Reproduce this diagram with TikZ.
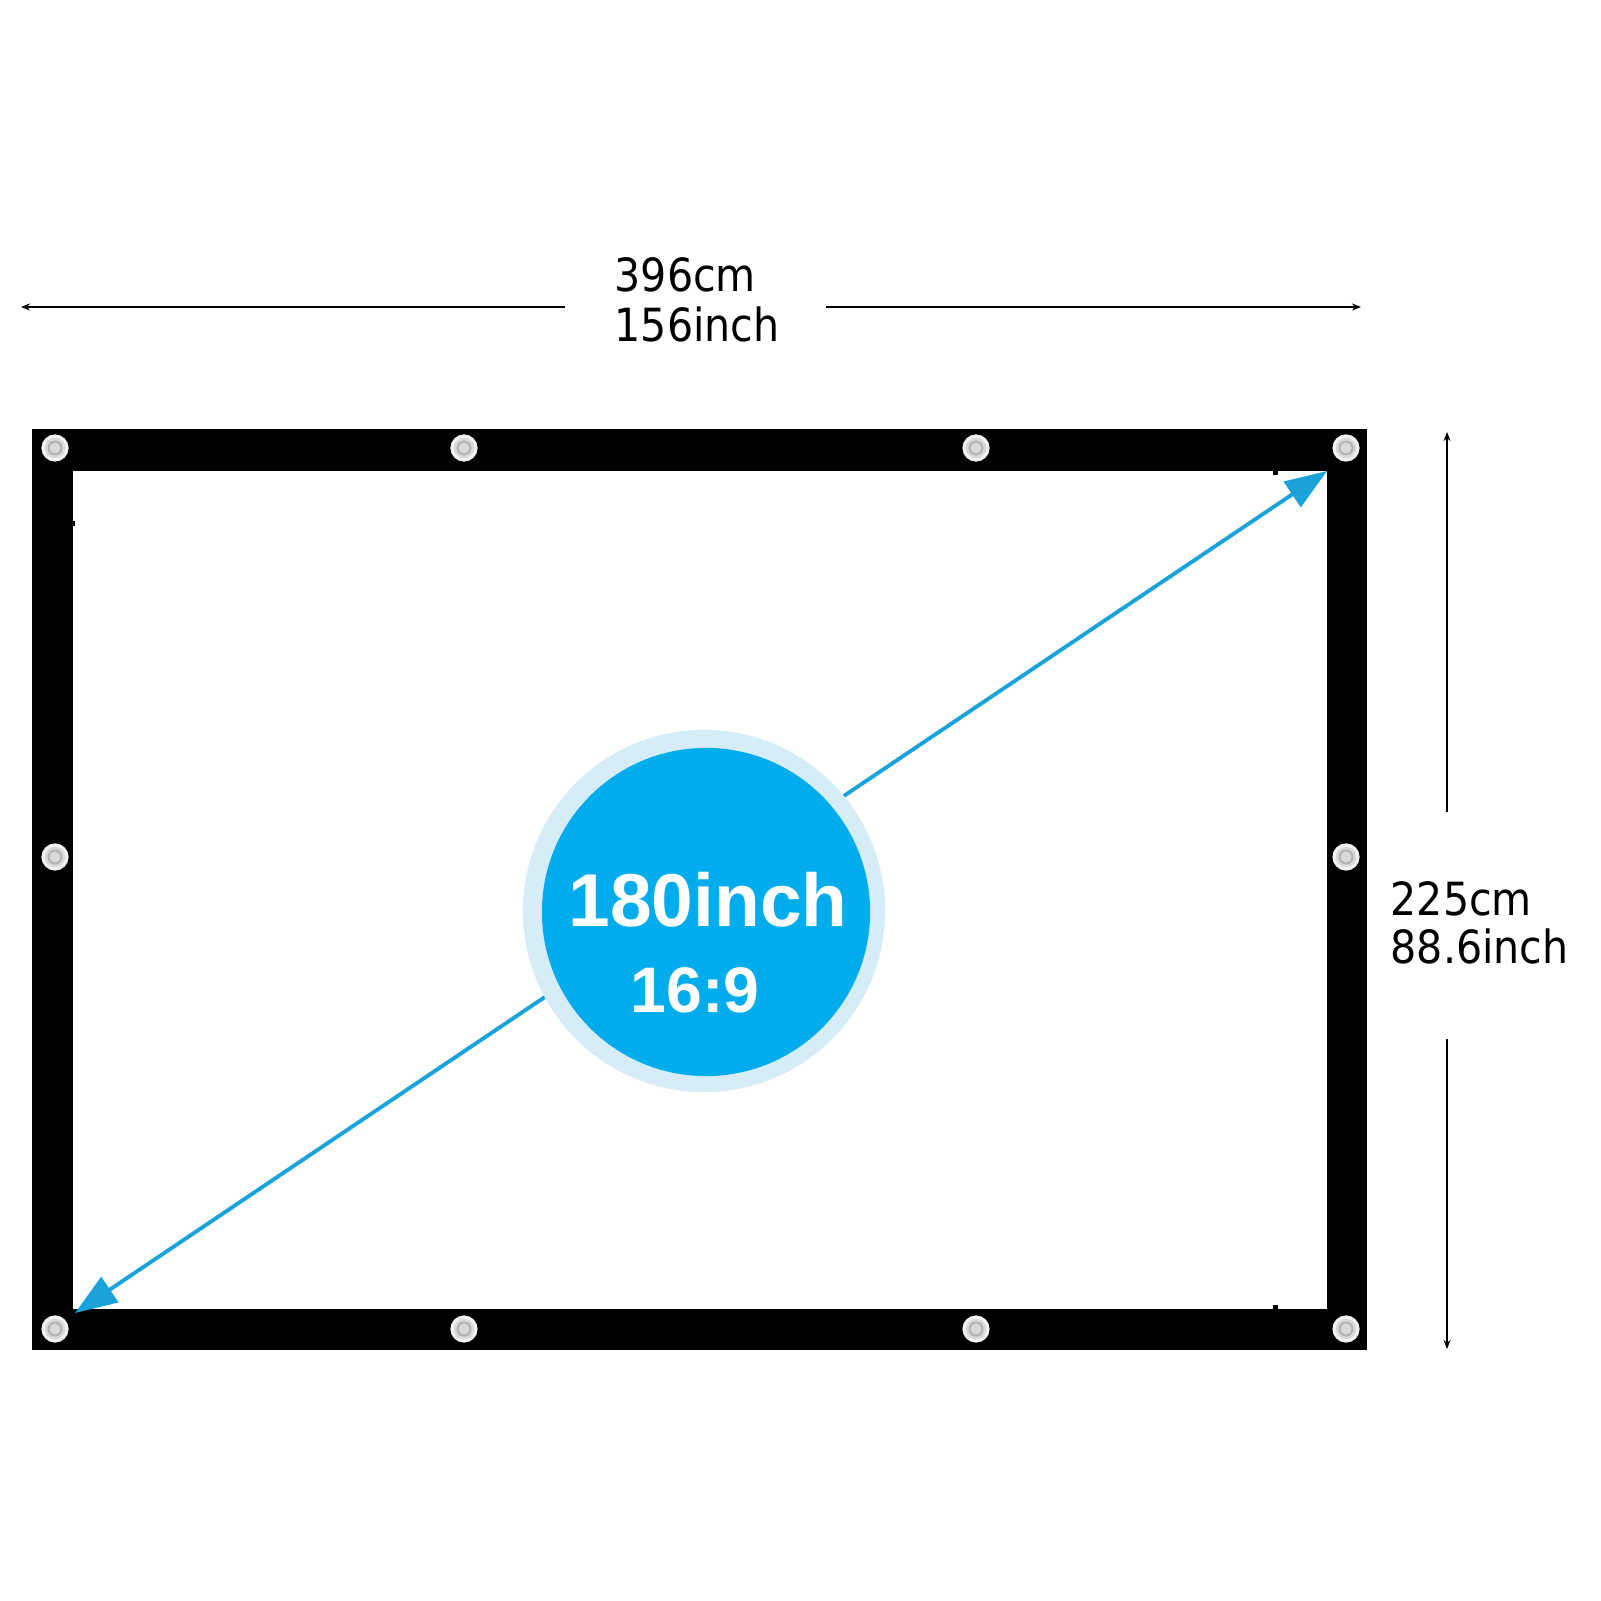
\documentclass[tikz,border=0pt]{standalone}
\usepackage{fontspec}
\setmainfont{DejaVu Sans Condensed}
\newfontfamily\boldsans{Liberation Sans}
\usetikzlibrary{arrows.meta}
\definecolor{skyblue}{RGB}{0,172,236}
\definecolor{paleblue}{RGB}{214,237,248}
\definecolor{diagblue}{RGB}{26,163,218}
\tikzset{
  dimline/.style={line width=0.45pt, -{Stealth[length=0.09cm,width=0.07cm]}},
  dimtext/.style={anchor=base west, inner sep=0pt, font=\fontsize{13}{14}\selectfont},
  diagline/.style={diagblue, line width=1.1pt, {Triangle[length=0.42cm,width=0.3cm]}-{Triangle[length=0.42cm,width=0.3cm]}},
  grommet/.style={circle, inner sep=0pt, minimum size=0.24cm, fill=gray!30, draw=gray!10, line width=0.9pt}
}
\begin{document}
\begin{tikzpicture}[x=0.01cm,y=-0.01cm]
\useasboundingbox[fill=white] (0,0) rectangle (1601,1601);

% screen frame
\fill[black] (32,429) rectangle (1367,1350);
\fill[white] (73,471) rectangle (1327,1309);
\fill[black] (71,521) rectangle (75,526);
\fill[black] (1273,471) rectangle (1278,475);
\fill[black] (1273,1305) rectangle (1278,1309);

% grommets
\foreach \gx/\gy [count=\i] in {55/448,464/448,976/448,1346/448,55/857,1346/857,55/1329,464/1329,976/1329,1346/1329}{
  \node[grommet] (g\i) at (\gx,\gy) {};
  \fill[gray!60] (g\i.center) circle (7.5);
  \fill[gray!30] (g\i.center) circle (5.5);
}

% diagonal
\coordinate (bl) at (75,1313);
\coordinate (tr) at (1327,471);
\draw[diagline] (bl) -- (tr);

\node[circle, fill=paleblue, minimum size=3.62cm, inner sep=0pt] (ring) at (704,911) {};
\node[circle, fill=skyblue, minimum size=3.28cm, inner sep=0pt] (badge) at (706,912) {};
\node[anchor=base, inner sep=0pt, text=white, font=\boldsans\bfseries\fontsize{21.3}{24}\selectfont] (size) at (708,926) {180inch};
\node[anchor=base, inner sep=0pt, text=white, font=\boldsans\bfseries\fontsize{18.3}{21}\selectfont] (ratio) at (695,1012) {16:9};

% width
\node[dimtext] (wcm) at (614,292) {396cm};
\node[dimtext] (win) at (614,342) {156inch};
\coordinate (wl) at (565,307);
\coordinate (wl2) at (21,307);
\coordinate (wr) at (826,307);
\coordinate (wr2) at (1361,307);
\draw[dimline] (wl) -- (wl2);
\draw[dimline] (wr) -- (wr2);

% height
\node[dimtext] (hcm) at (1390,915) {225cm};
\node[dimtext] (hin) at (1390,963) {88.6inch};
\coordinate (ht) at (1447,812);
\coordinate (ht2) at (1447,432);
\coordinate (hb) at (1447,1039);
\coordinate (hb2) at (1447,1349);
\draw[dimline] (ht) -- (ht2);
\draw[dimline] (hb) -- (hb2);
\end{tikzpicture}
\end{document}
